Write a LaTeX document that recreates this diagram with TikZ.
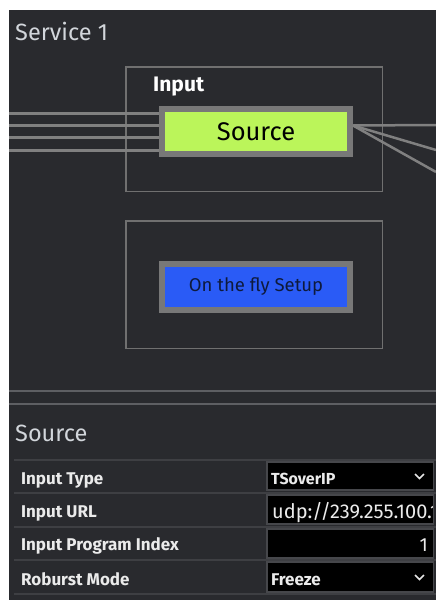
\documentclass[tikz,border=0pt]{standalone}
\usepackage{fontspec}
\setmainfont{Fira Sans}
\definecolor{panel}{HTML}{292A2E}
\definecolor{framegray}{HTML}{707070}
\definecolor{blockgray}{HTML}{787878}
\definecolor{wiregray}{HTML}{808080}
\definecolor{rulegray}{HTML}{5E5F63}
\definecolor{rowgray}{HTML}{3E3F43}
\definecolor{boxgray}{HTML}{46474B}
\definecolor{captext}{HTML}{D2D6DB}
\definecolor{lime}{HTML}{BBF55A}
\definecolor{setupblue}{HTML}{2A5BF6}
\definecolor{navy}{HTML}{0E1A3C}
\begin{document}
\begin{tikzpicture}[
  x=1pt, y=-1pt,
  frame/.style={draw=framegray, line width=1.5pt},
  block/.style={draw=blockgray, line width=6pt, minimum width=188pt,
                inner sep=0pt, text=black},
  wire/.style={draw=wiregray, line width=3pt},
  fanwire/.style={draw=wiregray, line width=2.5pt},
  heading/.style={anchor=base west, inner sep=0pt, text=captext,
                  font=\fontsize{23.5}{28}\selectfont},
  label/.style={anchor=base west, inner sep=0pt, text=white!92!black,
                font=\fontsize{17}{20}\selectfont\bfseries},
  valbox/.style={draw=boxgray, fill=black, line width=1.5pt},
  chevron/.style={draw=white!90!black, line width=1.6pt}
]
\useasboundingbox (0,0) rectangle (436,600);
% background panels
\fill[panel] (9,10) rectangle (436,600);
\draw[rulegray, line width=1.5pt] (9,391) -- (436,391);
\draw[rulegray, line width=1.5pt] (9,404) -- (436,404);

% service graph
\node[heading] (svc) at (15,40) {Service 1};
\draw[frame] (125.75,66.75) rectangle (382.25,191.25);
\draw[frame] (125.75,220.75) rectangle (382.25,348.25);
\node[heading, text=white, font=\fontsize{21}{25}\selectfont\bfseries]
  (inlbl) at (153,91) {Input};
\node[block, fill=lime, minimum height=45pt,
      font=\fontsize{25.5}{30}\selectfont] (src) at (256,131.5) {Source};
\node[block, fill=setupblue, minimum height=46pt, text=navy,
      font=\fontsize{18.5}{22}\selectfont] (otf) at (256,287) {On the fly Setup};

% inputs into the source
\foreach \y [count=\i] in {113,125,137,150} {
  \coordinate (in\i) at (9,\y);
  \draw[wire] (in\i) -- (in\i -| src.west);
}
% outputs leaving the source
\coordinate (fan) at ([yshift=6pt]src.east);
\foreach \y [count=\i] in {125,150,172} {
  \coordinate (out\i) at (436,\y);
  \draw[fanwire] (fan) -- (out\i);
}

% properties table
\node[heading] (props) at (15,441) {Source};
\foreach \y in {460,493,527,560,594}
  \draw[rowgray, line width=2pt] (14,\y) -- (436,\y);
\foreach \t/\b in {462/490,495/524,529/558,562/592}
  \draw[valbox] (266.75,\t) rectangle (433.25,\b);

\node[label] (l1) at (21,484) {Input Type};
\node[label] (l2) at (21,517) {Input URL};
\node[label] (l3) at (21,550) {Input Program Index};
\node[label] (l4) at (21,585) {Roburst Mode};

\node[label, font=\fontsize{16}{19}\selectfont\bfseries] (v1) at (271,484) {TSoverIP};
\begin{scope}
  \clip (268,496) rectangle (432,523);
  \node[label, font=\fontsize{20}{24}\selectfont] (v2) at (272,518)
    {udp://239.255.100.1};
\end{scope}
\node[label, anchor=base east, font=\fontsize{19}{23}\selectfont]
  (v3) at (428,551) {1};
\node[label] (v4) at (271,585) {Freeze};

\draw[chevron] (415,474) -- (419.5,478.5) -- (424,474);
\draw[chevron] (415,575) -- (419.5,579.5) -- (424,575);
\end{tikzpicture}
\end{document}
